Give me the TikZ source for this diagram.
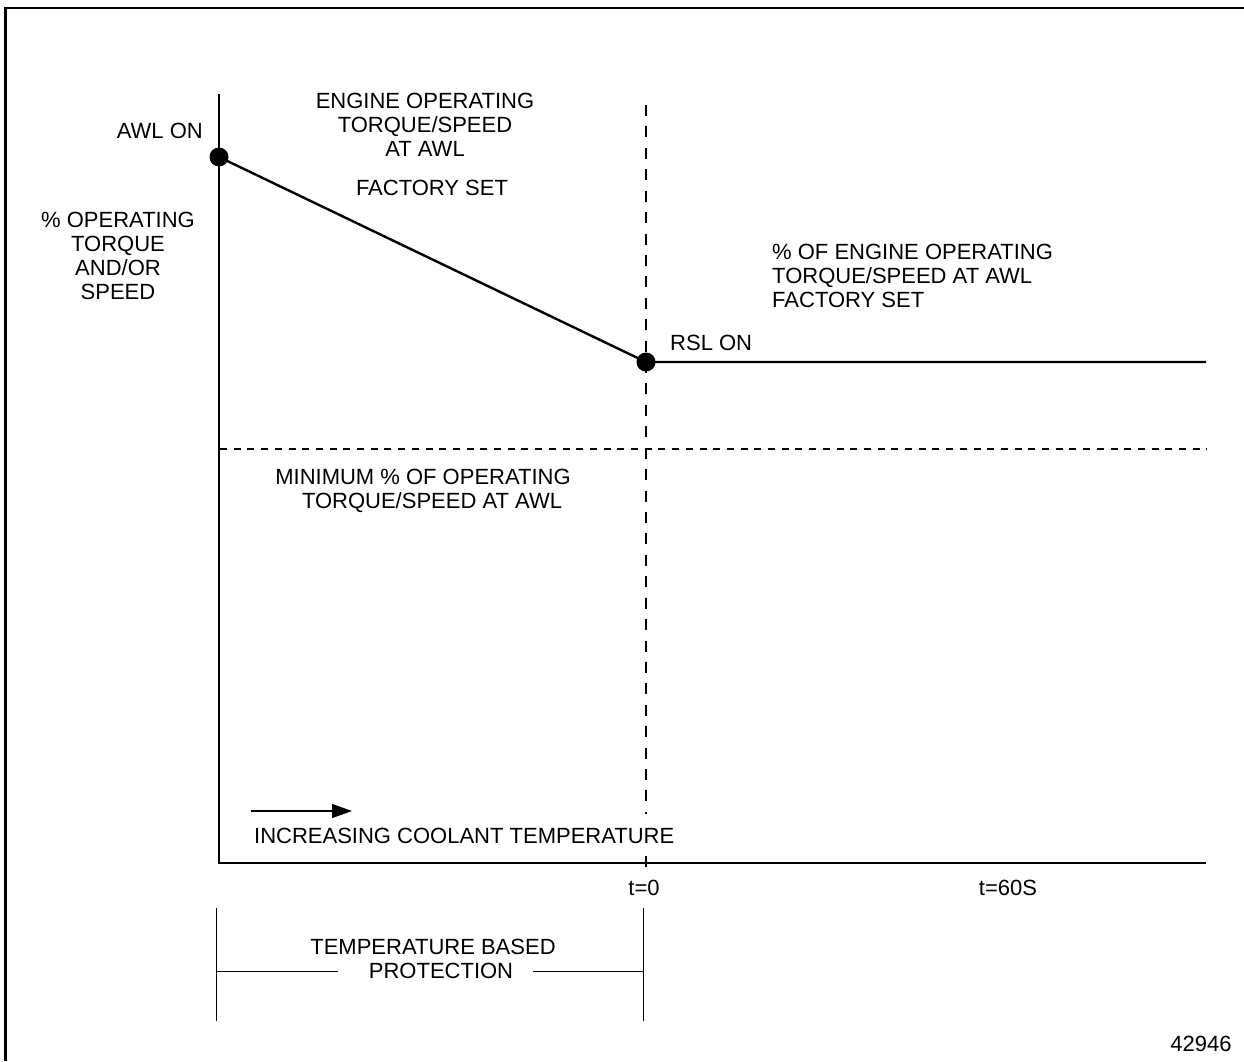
\documentclass[tikz,border=0pt]{standalone}
\usepackage{fontspec}
\setmainfont{Liberation Sans}
\usetikzlibrary{arrows.meta}
\newcommand{\lblfont}{\fontsize{22}{24}\selectfont}
\tikzset{
  lbl/.style={inner sep=0pt, font=\lblfont},
  dot/.style={circle, fill=black, inner sep=0pt, minimum size=19pt},
  axisline/.style={line width=2.8pt},
  curveline/.style={line width=2.4pt},
  vdash/.style={line width=2.4pt, dash pattern=on 11pt off 10.42pt},
  hdash/.style={line width=2pt, dash pattern=on 7pt off 6.7pt},
  thinline/.style={line width=1pt},
  framel/.style={line width=2.2pt}
}
\begin{document}
\begin{tikzpicture}[x=1pt,y=-1pt]
\useasboundingbox (0,0) rectangle (1244,1061);
% frame (top and left edges visible)
\coordinate (ftr) at (1244,8);
\coordinate (ftl) at (5.5,8);
\coordinate (fbl) at (5.5,1061);
\draw[framel] (ftr) -- (ftl) -- (fbl);
% axes
\coordinate (ytop) at (219,94);
\coordinate (orig) at (219,863);
\coordinate (xend) at (1206,863);
\draw[axisline] (ytop) -- (orig) -- (xend);
% dashed lines
\coordinate (vdtop) at (646,105);
\coordinate (vdgap1) at (646,813.5);
\coordinate (vdgap2) at (646,856);
\coordinate (vdbot) at (646,867);
\draw[vdash] (vdtop) -- (vdgap1);
\draw[vdash] (vdgap2) -- (vdbot);
\coordinate (hdl) at (220,449);
\coordinate (hdr) at (1207,449);
\draw[hdash] (hdl) -- (hdr);
% curve
\node[dot] (awl) at (219,157) {};
\node[dot] (rsl) at (646,362) {};
\coordinate (curend) at (1206,362);
\draw[curveline] (awl.center) -- (rsl.center) -- (curend);
% labels
\node[lbl, anchor=base east] (awlon) at (203,138) {AWL ON};
\node[lbl, align=center, anchor=north] (ylab) at (118,212) {\% OPERATING\\TORQUE\\AND/OR\\SPEED};
\node[lbl, align=center, anchor=north] (eng) at (425,93) {ENGINE OPERATING\\TORQUE/SPEED\\AT AWL};
\node[lbl, anchor=base] (fset) at (432,195) {FACTORY SET};
\node[lbl, align=left, anchor=north west] (pct) at (772,244) {\% OF ENGINE OPERATING\\TORQUE/SPEED AT AWL\\FACTORY SET};
\node[lbl, anchor=base west] (rslon) at (670,350) {RSL ON};
\node[lbl, align=center, anchor=north] (minl) at (423,469) {MINIMUM \% OF OPERATING\\\hspace*{18pt}TORQUE/SPEED AT AWL};
\node[lbl, anchor=base west] (inc) at (254,843) {INCREASING COOLANT TEMPERATURE};
\coordinate (arrs) at (251,811);
\coordinate (arre) at (352,811);
\draw[line width=1.3pt, -{Triangle[length=20pt,width=14pt]}] (arrs) -- (arre);
\node[lbl, anchor=base] (t0) at (644,895) {t=0};
\node[lbl, anchor=base] (t60) at (1008,895) {t=60S};
% temperature based protection bracket
\node[lbl, align=center, anchor=north] (tbp) at (433,939) {TEMPERATURE BASED\\\hspace*{16pt}PROTECTION};
\coordinate (bl1) at (216,908);
\coordinate (bl2) at (216,1021);
\coordinate (br1) at (643,908);
\coordinate (br2) at (643,1021);
\draw[thinline] (bl1) -- (bl2);
\draw[thinline] (br1) -- (br2);
\coordinate (bml) at (216,971);
\coordinate (bmr) at (643,971);
\coordinate (bgl) at (338,971);
\coordinate (bgr) at (533,971);
\draw[thinline] (bml) -- (bgl);
\draw[thinline] (bgr) -- (bmr);
\node[lbl, anchor=base] (fig) at (1201,1051) {42946};
\end{tikzpicture}
\end{document}
